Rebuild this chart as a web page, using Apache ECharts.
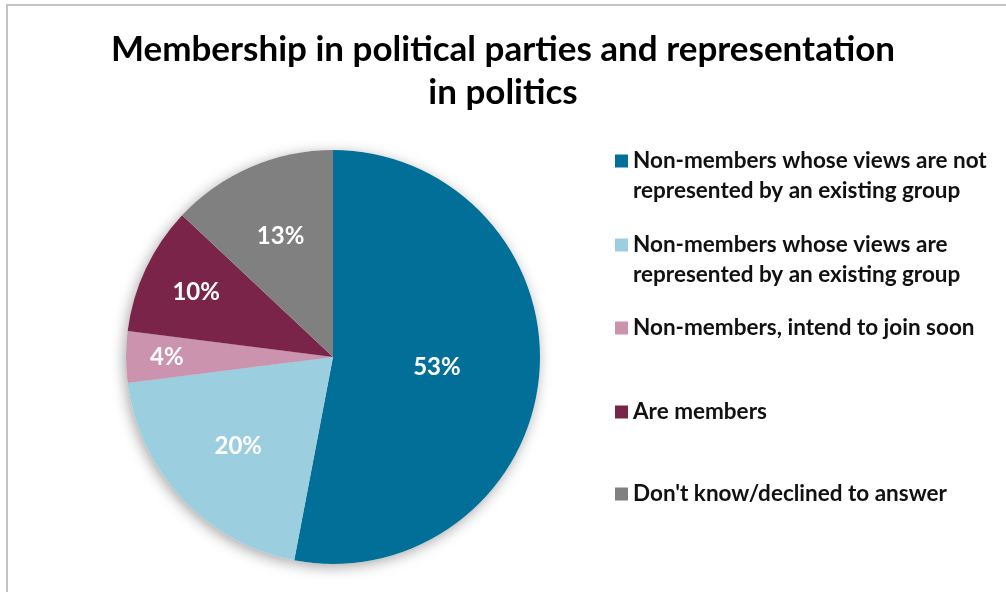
<!DOCTYPE html>
<html>
<head>
<meta charset="utf-8">
<script src="https://cdn.jsdelivr.net/npm/echarts@6/dist/echarts.min.js"></script>
<style>
  html, body { margin: 0; padding: 0; background: #ffffff; }
  #chart { width: 1006px; height: 592px; }
</style>
</head>
<body>
<div id="chart"></div>
<script>
// Survey answers: membership in political parties
const categories = [
  'Non-members whose views are not represented by an existing group',
  'Non-members whose views are represented by an existing group',
  'Non-members, intend to join soon',
  'Are members',
  "Don't know/declined to answer"
];
// Legend text, broken into the lines shown beside the pie
const legendLines = [
  ['Non-members whose views are not', 'represented by an existing group'],
  ['Non-members whose views are', 'represented by an existing group'],
  ['Non-members, intend to join soon'],
  ['Are members'],
  ["Don't know/declined to answer"]
];
const shares = [53, 20, 4, 10, 13];
const sliceColors = ['#016f98', '#9bcfe0', '#cb93ae', '#7b2449', '#808080'];

// Pie geometry and how far out each percent label sits (fraction of radius)
const CX = 333, CY = 357, R = 207;
const labelRadius = [0.49, 0.61, 0.78, 0.71, 0.62];

const FONT = 'Lato, "Open Sans", sans-serif';
const LINE = 30;
const legendFirstLineY = [161, 245, 328, 412, 494];

const chart = echarts.init(document.getElementById('chart'), null, { renderer: 'canvas' });

const pieData = categories.map((name, i) => ({
  name: name,
  value: shares[i],
  itemStyle: { color: sliceColors[i] }
}));

// One legend block per answer so each entry keeps its own slot.
// Two-line entries get a blank leading line so the marker sits beside the first line.
const legends = categories.map((name, i) => {
  const lines = legendLines[i];
  const twoLine = lines.length > 1;
  const text = twoLine ? ' \n' + lines.join('\n') : lines[0];
  const boxH = twoLine ? LINE * 3 : LINE;
  return {
    left: 615,
    top: legendFirstLineY[i] - boxH / 2,
    orient: 'vertical',
    padding: 0,
    itemWidth: 13,
    itemHeight: 13,
    icon: 'rect',
    selectedMode: false,
    data: [name],
    formatter: () => text,
    textStyle: {
      fontFamily: FONT,
      fontWeight: 'bold',
      fontSize: 22.5,
      color: '#111111',
      lineHeight: LINE
    }
  };
});

chart.setOption({
  animation: false,
  title: {
    text: 'Membership in political parties and representation\nin politics',
    left: 'center',
    top: 28,
    padding: 0,
    textStyle: {
      fontFamily: FONT,
      fontWeight: 'bold',
      fontSize: 35,
      lineHeight: 43,
      color: '#000000'
    }
  },
  legend: legends,
  graphic: [{
    type: 'rect',
    silent: true,
    z: -10,
    shape: { x: 7, y: 5, width: 1100, height: 700 },
    style: { fill: 'none', stroke: '#c3c3c3', lineWidth: 2 }
  }],
  series: [
    {
      // soft drop shadow beneath the pie
      type: 'pie',
      silent: true,
      z: 1,
      center: [CX, CY],
      radius: R,
      startAngle: 90,
      clockwise: true,
      label: { show: false },
      labelLine: { show: false },
      legendHoverLink: false,
      data: shares.map((v, i) => ({
        name: categories[i] + ' ',
        value: v,
        itemStyle: {
          color: '#ffffff',
          shadowBlur: 14,
          shadowColor: 'rgba(0,0,0,0.35)',
          shadowOffsetX: -2,
          shadowOffsetY: 3
        }
      }))
    },
    {
      type: 'pie',
      z: 2,
      center: [CX, CY],
      radius: R,
      startAngle: 90,
      clockwise: true,
      avoidLabelOverlap: false,
      itemStyle: { borderWidth: 0 },
      label: {
        show: true,
        position: 'inside',
        formatter: (p) => p.value + '%',
        fontFamily: FONT,
        fontWeight: 'bold',
        fontSize: 24,
        color: '#ffffff'
      },
      labelLine: { show: false },
      labelLayout: (p) => {
        const r = p.labelRect;
        const lx = r.x + r.width / 2;
        const ly = r.y + r.height / 2;
        const k = labelRadius[p.dataIndex] / 0.5 - 1;
        return { dx: (lx - CX) * k, dy: (ly - CY) * k };
      },
      emphasis: { disabled: true },
      data: pieData
    }
  ]
});
</script>
</body>
</html>
